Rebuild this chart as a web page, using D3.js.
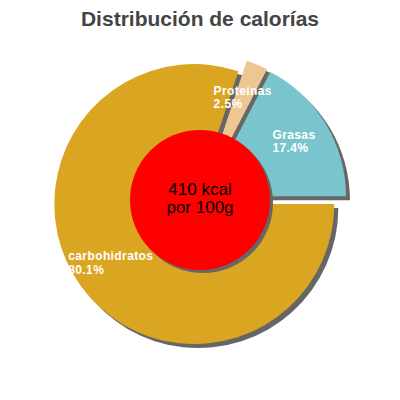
<!DOCTYPE html>
<html>
<head>
<meta charset="utf-8">
<script src="https://cdn.jsdelivr.net/npm/d3@7"></script>
<style>
  body { margin: 0; background: #fff; }
  svg { font-family: 'Liberation Sans', Arial, sans-serif; }
</style>
</head>
<body>
<script>
const title = 'Distribución de calorías';
const labels = ['carbohidratos', 'Proteínas', 'Grasas'];
const values = [80.1, 2.5, 17.4];
const colors = ['#daa520', '#eec691', '#7ac5cd'];
const centerLines = ['410 kcal', 'por 100g'];

const w = 400;
const h = 400;
const cx = 200;
const cy = 200;
const radius = 140;
const explode = 7;
const holeRadius = 70;

const svg = d3.select('body').append('svg').attr('width', w).attr('height', h);

svg.append('text')
   .text(title)
   .attr('x', w / 2)
   .attr('y', 26)
   .attr('text-anchor', 'middle')
   .style('font-size', '21px')
   .style('font-weight', 'bold')
   .style('fill', '#444');

const pie = d3.pie().sort(null).startAngle(Math.PI / 2).endAngle(Math.PI / 2 + 2 * Math.PI);
const arcs = pie(values);
const arc = d3.arc().innerRadius(0).outerRadius(radius);
const labelArc = d3.arc().innerRadius(110).outerRadius(110);

const g = svg.append('g').attr('transform', 'translate(' + cx + ',' + cy + ')');

const shift = (d) => {
  const a = (d.startAngle + d.endAngle) / 2;
  return [Math.sin(a) * explode, -Math.cos(a) * explode];
};

// shadows first, then slices
g.selectAll('path.shadow')
 .data(arcs)
 .enter()
 .append('path')
 .attr('class', 'shadow')
 .attr('d', arc)
 .attr('transform', (d) => { const s = shift(d); return 'translate(' + (s[0] + 4) + ',' + (s[1] + 4) + ')'; })
 .style('fill', '#666');

g.selectAll('path.slice')
 .data(arcs)
 .enter()
 .append('path')
 .attr('class', 'slice')
 .attr('d', arc)
 .attr('transform', (d) => { const s = shift(d); return 'translate(' + s[0] + ',' + s[1] + ')'; })
 .style('fill', (d, i) => colors[i]);

g.append('circle').attr('cx', 3).attr('cy', 3).attr('r', holeRadius).style('fill', '#666');
g.append('circle').attr('r', holeRadius).style('fill', '#ff0000');

const center = g.append('text')
  .attr('text-anchor', 'middle')
  .style('font-size', '17px')
  .style('fill', '#000');
centerLines.forEach((line, i) => {
  center.append('tspan').text(line).attr('x', 0).attr('y', -5 + i * 18);
});

// two-line labels, left aligned, block centred on the label arc
arcs.forEach((d, i) => {
  const p = labelArc.centroid(d);
  const t = g.append('text')
     .style('font-size', '12px')
     .style('letter-spacing', '0.4px')
     .style('font-weight', 'bold')
     .style('fill', '#fff');
  const lines = [labels[i], values[i] + '%'];
  const spans = lines.map((line, j) => t.append('tspan').text(line).attr('y', p[1] - 4 + j * 13.5));
  const maxLen = d3.max(spans, (s) => s.node().getComputedTextLength());
  spans.forEach((s) => s.attr('x', p[0] - maxLen / 2));
});
</script>
</body>
</html>
